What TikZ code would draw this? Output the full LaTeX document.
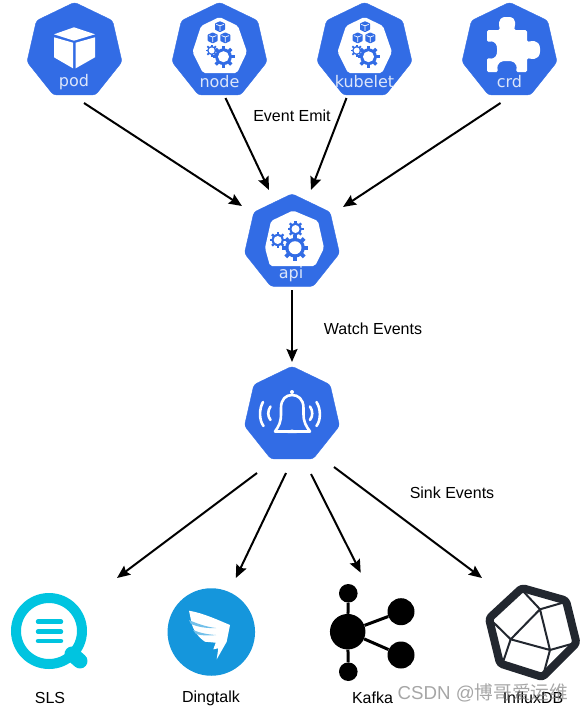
\documentclass[tikz,border=0pt]{standalone}
\usepackage{fontspec}
\setmainfont{Liberation Sans}
\newfontfamily\iconfont{DejaVu Sans}
\newfontfamily\cjkfont{Noto Sans CJK SC}
\usetikzlibrary{arrows.meta, shapes.geometric}

\definecolor{kubeblue}{HTML}{326CE5}
\definecolor{iconlight}{HTML}{DCE6FA}
\definecolor{slscyan}{HTML}{00C4E0}
\definecolor{dingblue}{HTML}{1596DC}
\definecolor{influxdark}{HTML}{22272F}

\tikzset{
    pics/gear/.style={code={
        \foreach \a in {0,45,...,315}
            \draw[kubeblue, line width={#1*0.3pt}] (\a:{0.6*#1}) -- (\a:#1);
        \fill[kubeblue] (0,0) circle [radius={0.76*#1}];
        \fill[white] (0,0) circle [radius={0.5*#1}];
    }},
    pics/tinycube/.style={code={
        \fill[kubeblue, rounded corners=0.5pt] (0,-5.5) -- (5,-3.2) -- (5,3) -- (0,5.5) -- (-5,3) -- (-5,-3.2) -- cycle;
        \draw[white, line width=0.7pt] (-3.7,-2.3) -- (0,-0.9) -- (3.7,-2.3) (0,-0.9) -- (0,4.2);
    }}
}

\begin{document}
\begin{tikzpicture}[
    x=1pt, y=-1pt,
    >=Stealth,
    flow/.style={-{Stealth[length=13pt, width=11pt, inset=2pt]}, line width=2pt, black},
    hepta/.style={regular polygon, regular polygon sides=7, fill=kubeblue, draw=kubeblue, rounded corners=3pt, minimum size=97.5pt, inner sep=0pt, outer sep=0pt},
    iconlabel/.style={font=\iconfont\fontsize{16}{18}\selectfont, text=iconlight, inner sep=0pt},
    caption/.style={font=\fontsize{16}{18}\selectfont, inner sep=0pt},
    hub/.style={circle, fill=black, inner sep=0pt}
]
\useasboundingbox (0,0) rectangle (584,713);

% Kubernetes icons
\node[hepta] (pod) at (74.5,51) {};
\node[hepta] (node) at (219.5,51) {};
\node[hepta] (kubelet) at (364.5,51) {};
\node[hepta] (crd) at (509.5,51) {};
\node[hepta] (api) at (292,242.5) {};
\node[hepta] (bell) at (292,415) {};

% Cube of pod
\fill[white] (74,27.3) -- (95,34.3) -- (74,40.7) -- (54,34.3) -- cycle;
\fill[white] (54,37.3) -- (73,42.7) -- (73,68.3) -- (54,57.3) -- cycle;
\fill[white] (75.7,42.7) -- (95,37.3) -- (95,57.3) -- (75.7,68.3) -- cycle;

% White panels of node and kubelet, with cubes and gears
\foreach \ox in {0,145} {
    \begin{scope}[xshift=\ox pt]
    \fill[white, rounded corners=2pt] (219.5,17) -- (238,26) -- (247,52) -- (237,73) -- (203,73) -- (192.5,52) -- (201,26) -- cycle;
    \pic at (220,26.7) {tinycube};
    \pic at (212.7,37.9) {tinycube};
    \pic at (225.3,37.9) {tinycube};
    \pic at (211.7,50.5) {gear=6};
    \pic at (223.5,56.7) {gear=11};
    \end{scope}
}

% Puzzle piece of crd
\fill[white, rounded corners=1.5pt] (487,30) -- (500,30) .. controls (497,18) and (503,17) .. (507,17)
    .. controls (512,17) and (517,18) .. (514,30) -- (527,30) -- (527,42)
    .. controls (539,39) and (540,46) .. (540,50) .. controls (540,54) and (539,61) .. (527,58)
    -- (527,72) -- (516,72) .. controls (518,62) and (512,61) .. (507,61)
    .. controls (502,61) and (496,62) .. (498,72) -- (487,72) -- (487,58)
    .. controls (497,60) and (497,53) .. (497,50) .. controls (497,47) and (497,40) .. (487,42) -- cycle;

% Panel of api
\fill[white, rounded corners=2pt] (293,210.5) -- (318,221) -- (324,248) -- (315,266) -- (270,266) -- (265,248) -- (271,221) -- cycle;
\pic at (295.5,229) {gear=8};
\pic at (277.7,240) {gear=8};
\pic at (295,247.7) {gear=13};

% Bell
\draw[white, line width=2.6pt, line join=round] (275,431.5) .. controls (279,426) and (281,422) .. (281,414) -- (281,408)
    .. controls (281,399) and (286,395) .. (292,395) .. controls (298,395) and (303.5,399) .. (303.5,408) -- (303.5,414)
    .. controls (303.5,422) and (306,426) .. (310,431.5) -- cycle;
\fill[white] (292,392) circle [radius=2];
\fill[white] (287.5,433) arc (180:360:4.5 and 3.5) -- cycle;
\draw[white, line width=2.6pt, line cap=round] (263,402) .. controls (259,409) and (259,420) .. (263.5,426);
\draw[white, line width=2.6pt, line cap=round] (270.5,406.5) .. controls (267.5,411) and (267.5,416) .. (270.5,420);
\draw[white, line width=2.6pt, line cap=round] (316.5,402) .. controls (321,409) and (321,420) .. (316.5,426);
\draw[white, line width=2.6pt, line cap=round] (310,406.5) .. controls (313,411) and (313,416) .. (310,420);

% Icon labels
\node[iconlabel] (podname) at (74,82) {pod};
\node[iconlabel] (nodename) at (219.5,82) {node};
\node[iconlabel] (kubeletname) at (364.5,82) {kubelet};
\node[iconlabel] (crdname) at (509.5,82) {crd};
\node[iconlabel] (apiname) at (291,274) {api};

% SLS
\node[circle, draw=slscyan, line width=10pt, minimum size=66pt, inner sep=0pt] (sls) at (49,631) {};
\draw[slscyan, line width=15pt, line cap=round] (72,654) -- (80,661);
\foreach \ly in {621.7,631.7,641}
    \draw[slscyan, line width=4.5pt, line cap=round] (38,\ly) -- (61,\ly);

% Dingtalk
\node[circle, fill=dingblue, minimum size=87.5pt, inner sep=0pt] (dingtalk) at (211.3,632) {};
\fill[white] (189,610.7) .. controls (203,613) and (218,620) .. (230,625) -- (226.7,641.7)
    -- (216.7,659.3) -- (218.3,648.3) -- (213.3,649.3) -- (215.7,642.7) -- (205,641.7)
    .. controls (199,638) and (193,630) .. (191.7,623.3) -- cycle;
\fill[dingblue!60!white] (189,620) .. controls (198,624) and (207,627) .. (216,628) .. controls (207,628.5) and (198,627) .. (191,624) -- cycle;
\fill[dingblue!60!white] (193,630) .. controls (200,633) and (208,634.5) .. (216,635) .. controls (208,636) and (201,635.5) .. (196,634) -- cycle;

% Kafka
\node[hub, minimum size=35.5pt] (kafka) at (347.7,631.7) {};
\node[hub, minimum size=18.6pt] (kafkatop) at (348.3,593.3) {};
\node[hub, minimum size=18.6pt] (kafkabottom) at (348.3,671.7) {};
\node[hub, minimum size=27pt] (kafkaupper) at (401,611.7) {};
\node[hub, minimum size=27pt] (kafkalower) at (401,655) {};
\foreach \leaf in {kafkatop,kafkabottom,kafkaupper,kafkalower}
    \draw[line width=3pt] (kafka) -- (\leaf);

% InfluxDB
\coordinate (influx) at (532,632);
\draw[influxdark, line width=8pt, line join=round, rounded corners=3pt] (522,588) -- (566,600.5) -- (576.5,643) -- (542.5,677) -- (500,663.5) -- (489,618.5) -- cycle;
\draw[influxdark, line width=2pt, line join=round] (540,609.3) -- (510.7,639.3) -- (550,650) -- cycle;
\draw[influxdark, line width=2pt] (540,609.3) -- (522,590) (540,609.3) -- (567,601.5)
    (550,650) -- (575,643) (550,650) -- (543,676)
    (510.7,639.3) -- (491,620) (510.7,639.3) -- (502,665);

% Connectors
\draw[flow] ([shift={(9.5,52)}]pod.center) -- ([shift={(-50,-36.5)}]api.center);
\draw[flow] ([shift={(6,47)}]node.center) -- ([shift={(-23,-52.5)}]api.center);
\draw[flow] ([shift={(-18,47)}]kubelet.center) -- ([shift={(19,-52.5)}]api.center);
\draw[flow] ([shift={(-9,52)}]crd.center) -- ([shift={(51,-35.5)}]api.center);
\draw[flow] ([shift={(0,47.5)}]api.center) -- ([shift={(0,-53)}]bell.center);
\draw[flow] ([shift={(-35,58)}]bell.center) -- ([shift={(68,-53)}]sls.center);
\draw[flow] ([shift={(-6,58)}]bell.center) -- ([shift={(24.5,-54)}]dingtalk.center);
\draw[flow] ([shift={(19,59)}]bell.center) -- ([shift={(13,-59)}]kafka.center);
\draw[flow] ([shift={(42,52)}]bell.center) -- ([shift={(-50,-54)}]influx);

% Labels
\node[caption] (emit) at (292,115.5) {Event Emit};
\node[caption] (watch) at (373,328.5) {Watch Events};
\node[caption] (sink) at (452,492.5) {Sink Events};
\node[caption] (slsname) at (50,698) {SLS};
\node[caption] (dingtalkname) at (211,698) {Dingtalk};
\node[caption] (kafkaname) at (372.5,698) {Kafka};
\node[caption] (influxname) at (533,698) {InfluxDB};

% Watermark
\node[font=\fontsize{18.7}{20}\selectfont, text=gray, opacity=0.7, inner sep=0pt] (mark) at (483,693) {CSDN @{\cjkfont 博哥爱运维}};
\end{tikzpicture}
\end{document}
